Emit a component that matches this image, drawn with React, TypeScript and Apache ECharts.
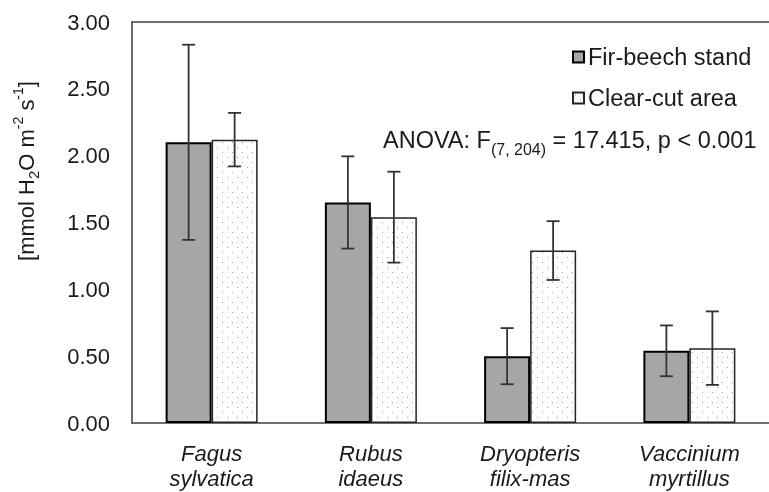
import React, { useEffect, useRef } from "react";
import * as echarts from "echarts";

const categories = ["Fagus\nsylvatica", "Rubus\nidaeus", "Dryopteris\nfilix-mas", "Vaccinium\nmyrtillus"];
const firBeech = [2.1, 1.65, 0.5, 0.54];
const firBeechErr = [0.73, 0.345, 0.21, 0.19];
const clearCut = [2.12, 1.54, 1.29, 0.56];
const clearCutErr = [0.2, 0.34, 0.22, 0.275];
const yTicks = { min: 0, max: 3, interval: 0.5 };

function makeDots() {
  const c = document.createElement("canvas");
  c.width = 10;
  c.height = 10;
  const ctx = c.getContext("2d")!;
  ctx.fillStyle = "#ffffff";
  ctx.fillRect(0, 0, 10, 10);
  ctx.fillStyle = "#a0a0a0";
  ctx.fillRect(2, 2, 1, 1);
  ctx.fillRect(7, 7, 1, 1);
  return c;
}

export default function App() {
  const ref = useRef<HTMLDivElement>(null);
  useEffect(() => {
    const chart = echarts.init(ref.current!, null, { renderer: "svg" });
    const barW = 46;
    const errSeries = (vals: number[], errs: number[], sign: number, name: string) => ({
      type: "custom",
      name,
      z: 10,
      silent: true,
      data: vals.map((v, i) => [i, v - errs[i], v + errs[i]]),
      renderItem: (params: any, api: any) => {
        const lo = api.coord([api.value(0), api.value(1)]);
        const hi = api.coord([api.value(0), api.value(2)]);
        const x = lo[0] + (sign * barW) / 2;
        const cap = 6.5;
        const style = { stroke: "#333333", lineWidth: 1.8, fill: "none" };
        return {
          type: "group",
          children: [
            { type: "line", shape: { x1: x, y1: lo[1], x2: x, y2: hi[1] }, style },
            { type: "line", shape: { x1: x - cap, y1: lo[1], x2: x + cap, y2: lo[1] }, style },
            { type: "line", shape: { x1: x - cap, y1: hi[1], x2: x + cap, y2: hi[1] }, style },
          ],
        };
      },
      encode: { x: 0, y: [1, 2] },
    });
    const font = "'Liberation Sans', Arial, sans-serif";
    const txt = "#1a1a1a";
    chart.setOption({
      animation: false,
      textStyle: { fontFamily: font },
      grid: { left: 132, top: 22, width: 645, height: 401, containLabel: false },
      legend: {
        orient: "vertical",
        left: 567,
        top: 40,
        itemGap: 17,
        itemWidth: 11,
        itemHeight: 11,
        icon: "rect",
        data: ["Fir-beech stand", "Clear-cut area"],
        textStyle: { fontSize: 23.5, color: txt, fontFamily: font, padding: [0, 0, 0, -1] },
      },
      xAxis: [
        {
          type: "category",
          data: categories,
          axisLine: { lineStyle: { color: "#404040", width: 1.5 } },
          axisTick: { show: false },
          axisLabel: {
            fontSize: 22,
            fontStyle: "italic",
            color: txt,
            lineHeight: 25,
            margin: 18,
            fontFamily: font,
          },
        },
        {
          type: "category",
          position: "top",
          data: categories,
          axisLine: { lineStyle: { color: "#404040", width: 1.5 } },
          axisTick: { show: false },
          axisLabel: { show: false },
        },
      ],
      yAxis: {
        type: "value",
        min: yTicks.min,
        max: yTicks.max,
        interval: yTicks.interval,
        axisLine: { show: true, lineStyle: { color: "#404040", width: 1.5 } },
        axisTick: { show: false },
        splitLine: { show: false },
        axisLabel: {
          fontSize: 22,
          color: txt,
          margin: 22,
          fontFamily: font,
          formatter: (v: number) => v.toFixed(2),
        },
      },
      series: [
        {
          type: "bar",
          name: "Fir-beech stand",
          data: firBeech,
          barWidth: barW,
          barGap: "0%",
          itemStyle: { color: "#a6a6a6", borderColor: "#000000", borderWidth: 2 },
        },
        {
          type: "bar",
          name: "Clear-cut area",
          data: clearCut,
          barWidth: barW,
          barGap: "0%",
          itemStyle: {
            color: { image: makeDots(), repeat: "repeat" },
            borderColor: "#262626",
            borderWidth: 1.5,
          },
        },
        errSeries(firBeech, firBeechErr, -1, "errA"),
        errSeries(clearCut, clearCutErr, 1, "errB"),
      ],
      graphic: [
        {
          type: "text",
          left: 383,
          top: 128,
          style: {
            text: "{a|ANOVA: F}{s|(7, 204)}{a| = 17.415, p < 0.001}",
            rich: {
              a: { fontSize: 23.5, fill: txt, fontFamily: font, verticalAlign: "top", lineHeight: 29 },
              s: { fontSize: 16, fill: txt, fontFamily: font, verticalAlign: "bottom", lineHeight: 29 },
            },
          },
        },
        {
          type: "text",
          x: 26,
          y: 171,
          rotation: Math.PI / 2,
          style: {
            text: "{a|[mmol H}{sb|2}{a|O m}{sp|-2}{a| s}{sp|-1}{a|]}",
            align: "center",
            verticalAlign: "middle",
            rich: {
              a: { fontSize: 22, fill: txt, fontFamily: font, verticalAlign: "middle", lineHeight: 30 },
              sb: { fontSize: 15, fill: txt, fontFamily: font, verticalAlign: "bottom", lineHeight: 30 },
              sp: { fontSize: 14, fill: txt, fontFamily: font, verticalAlign: "top", lineHeight: 30 },
            },
          },
        },
      ],
    });
    return () => chart.dispose();
  }, []);
  return <div ref={ref} style={{ position: "fixed", left: 0, top: 0, width: 769, height: 492 }} />;
}
